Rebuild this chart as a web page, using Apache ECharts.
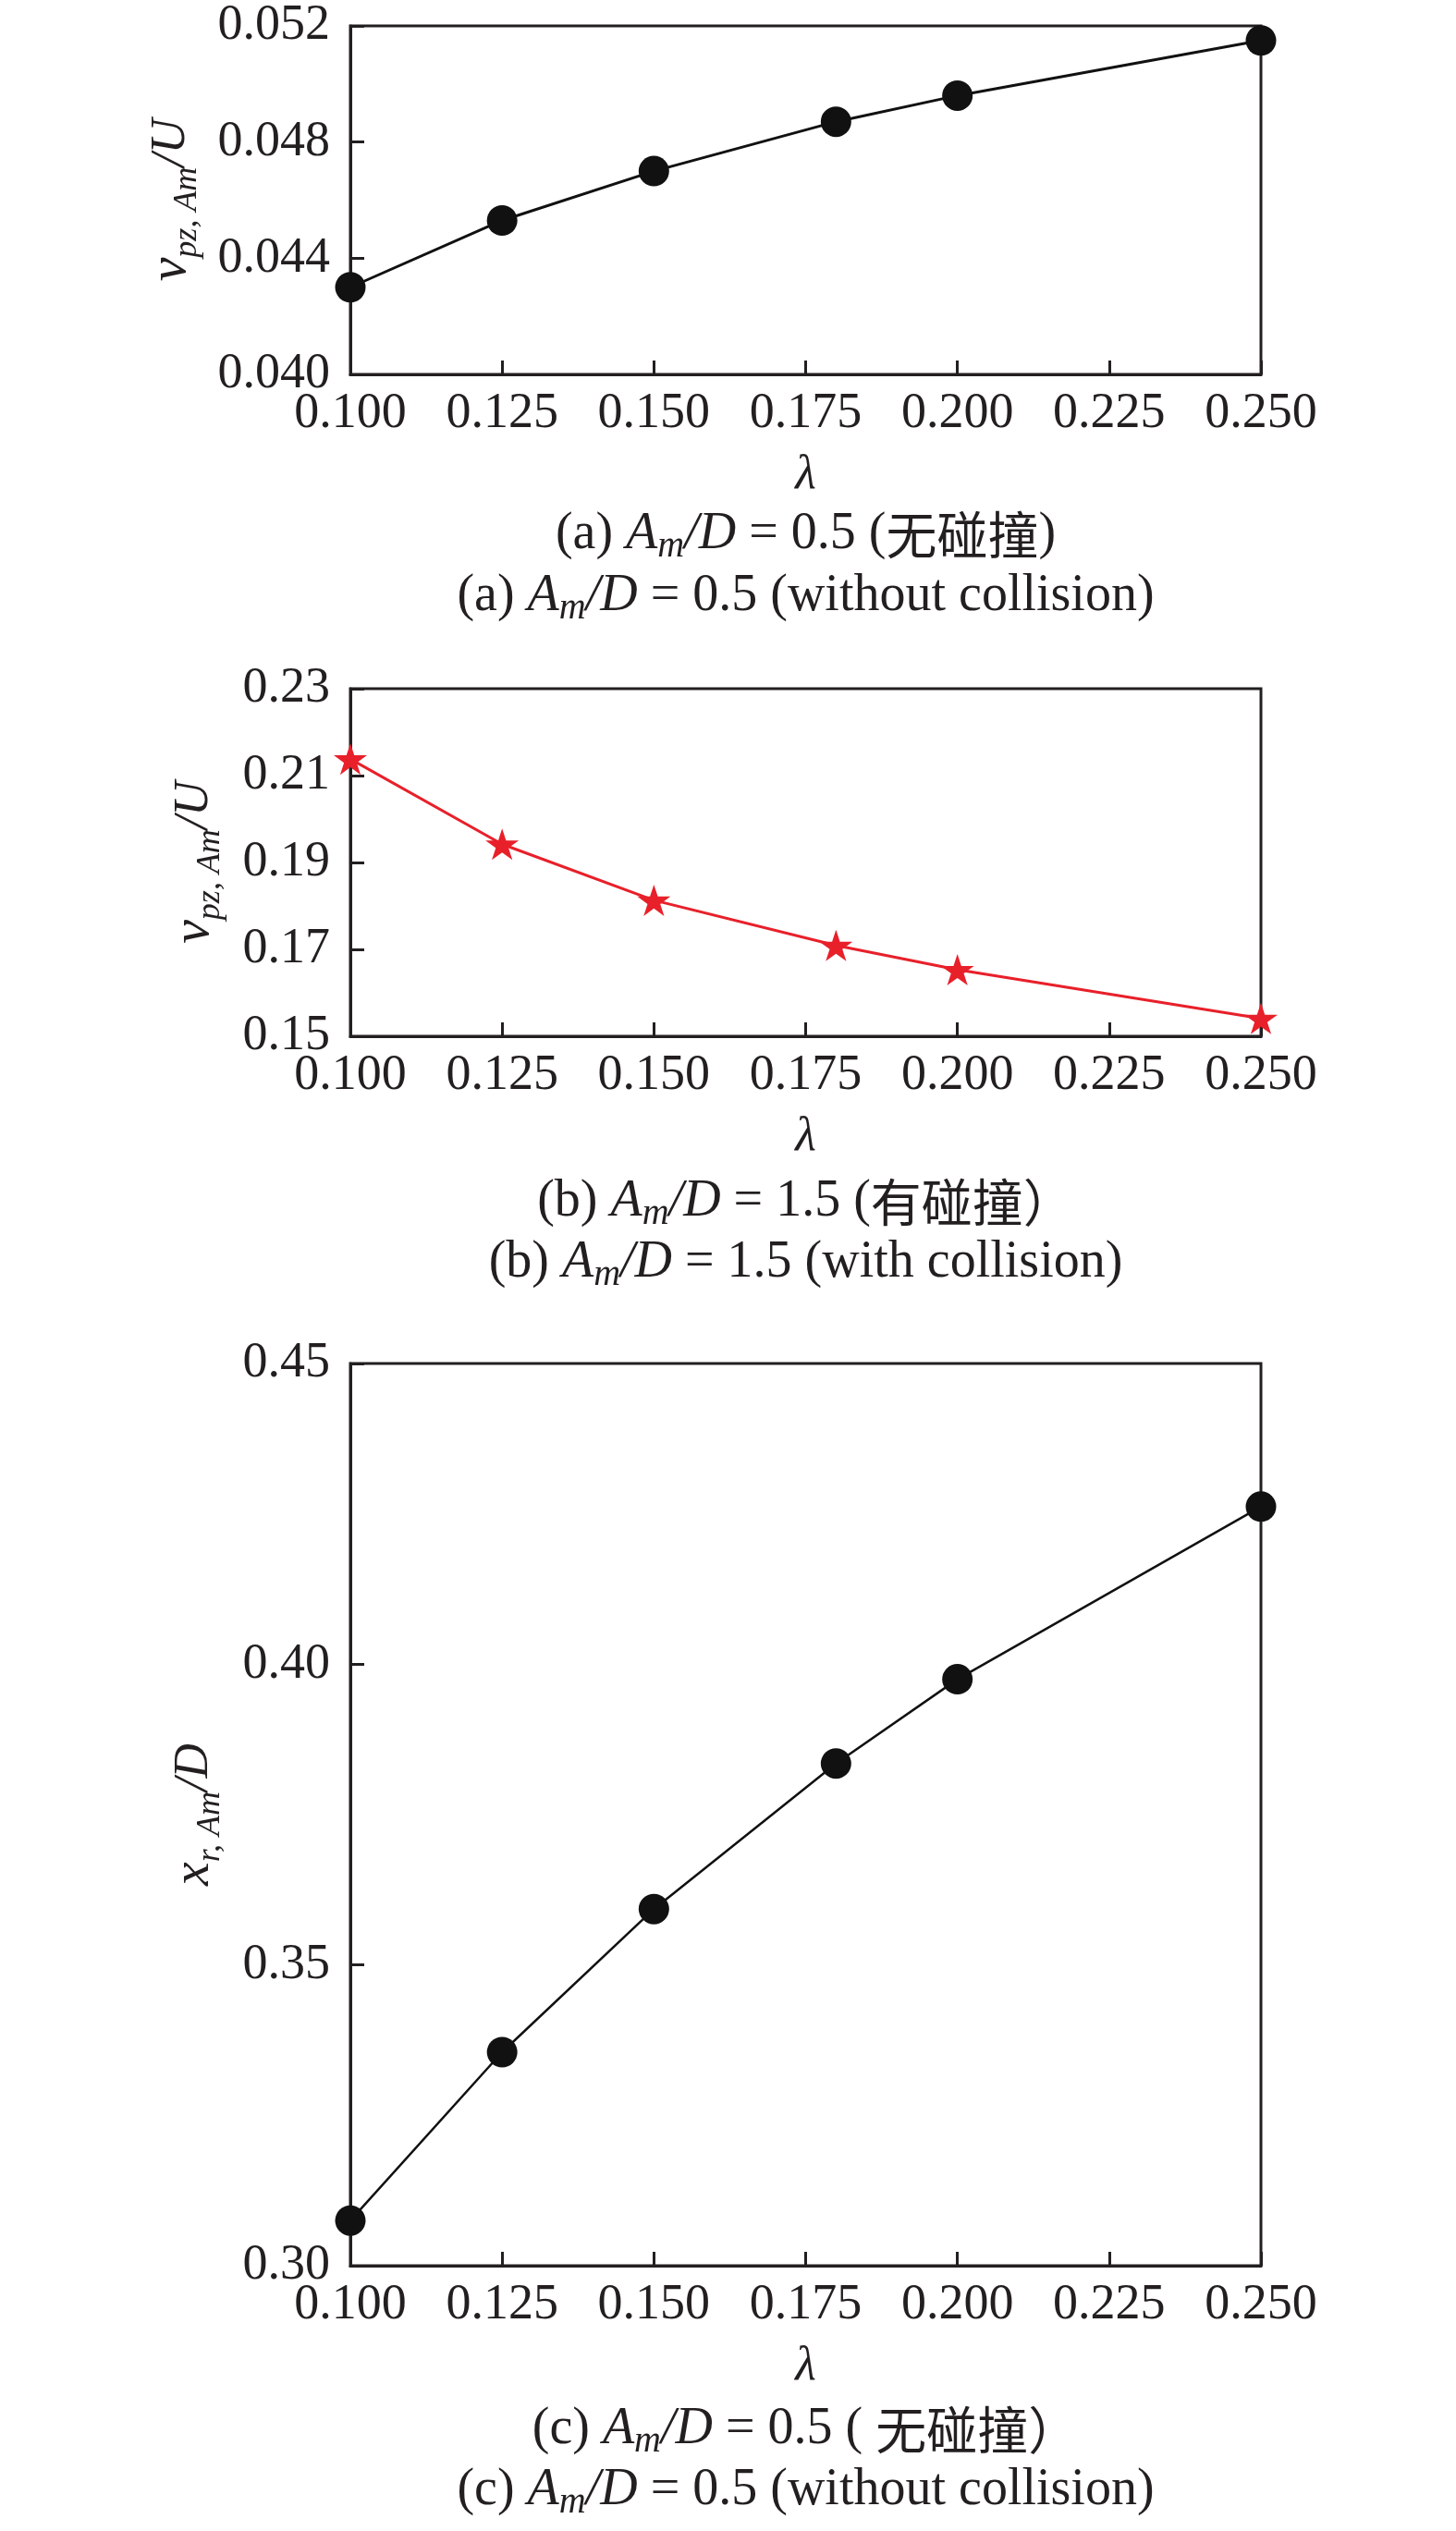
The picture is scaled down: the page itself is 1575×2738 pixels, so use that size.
<!DOCTYPE html>
<html><head><meta charset="utf-8">
<script src="https://cdn.jsdelivr.net/npm/echarts@6/dist/echarts.min.js"></script>
<style>html,body{margin:0;padding:0;background:#fff}#c{width:1575px;height:2738px}</style>
</head><body><div id="c"></div>
<script>
// ---- data ----
const lambdaValues   = [0.100, 0.125, 0.150, 0.180, 0.200, 0.250];
const vpzNoCollision = [0.0430, 0.0453, 0.0470, 0.0487, 0.0496, 0.0515];
const vpzCollision   = [0.2138, 0.1942, 0.1813, 0.1709, 0.1653, 0.1541];
const xrNoCollision  = [0.3075, 0.3355, 0.3593, 0.3835, 0.3975, 0.4262];
const xTicks  = [0.100, 0.125, 0.150, 0.175, 0.200, 0.225, 0.250];
const yTicksA = [0.040, 0.044, 0.048, 0.052];
const yTicksB = [0.15, 0.17, 0.19, 0.21, 0.23];
const yTicksC = [0.30, 0.35, 0.40, 0.45];
const captions = [
  '{n|(a) }{i|A}{s|m}{i|/D}{n| = 0.5 (}{c|无碰撞}{n|)}',
  '{n|(a) }{i|A}{s|m}{i|/D}{n| = 0.5 (without collision)}',
  '{n|(b) }{i|A}{s|m}{i|/D}{n| = 1.5 (}{c|有碰撞）}',
  '{n|(b) }{i|A}{s|m}{i|/D}{n| = 1.5 (with collision)}',
  '{n|(c) }{i|A}{s|m}{i|/D}{n| = 0.5 ( }{c|无碰撞）}',
  '{n|(c) }{i|A}{s|m}{i|/D}{n| = 0.5 (without collision)}'
];
const yNames = ['{v|v}{s|pz, Am}{n|/U}', '{v|v}{s|pz, Am}{n|/U}', '{v|x}{s|r, Am}{n|/D}'];
const xName = 'λ';

// ---- styling ----
const INK = '#231f20';
const SERIF = 'Liberation Serif';
const grids = [
  {left: 379, top: 28,   width: 985, height: 377},
  {left: 379, top: 745,  width: 985, height: 376},
  {left: 379, top: 1475, width: 985, height: 976}
];
const yTickSets = [yTicksA, yTicksB, yTicksC];
const yDigits = [3, 2, 2];
const yNameGaps = [164, 139, 139];
const captionTops = [545, 612, 1267, 1333, 2595, 2661];

const capRich = {
  n: {fontFamily: SERIF, fontSize: 56, lineHeight: 66, color: INK, verticalAlign: 'middle'},
  i: {fontFamily: SERIF, fontSize: 56, lineHeight: 66, color: INK, fontStyle: 'italic', verticalAlign: 'middle'},
  s: {fontFamily: SERIF, fontSize: 40, lineHeight: 38, color: INK, fontStyle: 'italic', padding: [27, 0, 0, 0], verticalAlign: 'middle'},
  c: {fontFamily: 'Noto Sans CJK SC', fontSize: 55, lineHeight: 66, color: INK, verticalAlign: 'middle'}
};
const nameRich = {
  v: {fontFamily: SERIF, fontSize: 58, lineHeight: 60, color: INK, fontStyle: 'italic', verticalAlign: 'middle'},
  s: {fontFamily: SERIF, fontSize: 36, lineHeight: 36, color: INK, fontStyle: 'italic', padding: [35, 0, 0, 0], verticalAlign: 'middle'},
  n: {fontFamily: SERIF, fontSize: 52, lineHeight: 60, color: INK, fontStyle: 'italic', verticalAlign: 'middle'}
};

const STAR = 'path://M50,0 L61.2,34.5 L97.6,34.5 L68.2,55.9 L79.4,90.5 L50,69.1 L20.6,90.5 L31.8,55.9 L2.4,34.5 L38.8,34.5 Z';

const xAxes = grids.map((g, k) => ({
  type: 'value', gridIndex: k,
  min: xTicks[0], max: xTicks[xTicks.length - 1],
  name: xName, nameLocation: 'middle', nameGap: 84,
  nameTextStyle: {fontFamily: SERIF, fontStyle: 'italic', fontSize: 52, lineHeight: 50, color: INK},
  axisLine: {show: true, lineStyle: {color: INK, width: 3}},
  axisTick: {show: true, inside: true, length: 15, lineStyle: {color: INK, width: 3}, customValues: xTicks},
  axisLabel: {show: true, margin: 16, color: INK, fontFamily: SERIF, fontSize: 54, customValues: xTicks,
    formatter: v => v.toFixed(3)},
  splitLine: {show: false}
}));

const yAxes = grids.map((g, k) => {
  const t = yTickSets[k];
  return {
    type: 'value', gridIndex: k,
    min: t[0], max: t[t.length - 1],
    name: yNames[k], nameLocation: 'middle', nameRotate: 90, nameGap: yNameGaps[k],
    nameTextStyle: {rich: nameRich, color: INK},
    axisLine: {show: true, lineStyle: {color: INK, width: 3}},
    axisTick: {show: true, inside: true, length: 15, lineStyle: {color: INK, width: 3}, customValues: t},
    axisLabel: {show: true, margin: 22, color: INK, fontFamily: SERIF, fontSize: 54, customValues: t,
      formatter: v => v.toFixed(yDigits[k])},
    splitLine: {show: false}
  };
});

function pairs(ys) { return lambdaValues.map((x, i) => [x, ys[i]]); }

const option = {
  animation: false,
  backgroundColor: '#fff',
  grid: grids.map(g => Object.assign({show: true, borderColor: INK, borderWidth: 3, backgroundColor: 'transparent', containLabel: false}, g)),
  xAxis: xAxes,
  yAxis: yAxes,
  title: captions.map((c, k) => ({
    text: c, left: 871.5, top: captionTops[k], textAlign: 'center', padding: 0,
    textStyle: {rich: capRich, fontFamily: SERIF, fontSize: 56, fontWeight: 'normal', color: INK}
  })),
  series: [
    {type: 'line', xAxisIndex: 0, yAxisIndex: 0, data: pairs(vpzNoCollision), clip: false,
     symbol: 'circle', symbolSize: 33, itemStyle: {color: '#111111'}, lineStyle: {color: '#111111', width: 3}},
    {type: 'line', xAxisIndex: 1, yAxisIndex: 1, data: pairs(vpzCollision), clip: false,
     symbol: STAR, symbolSize: [36, 34], itemStyle: {color: '#e8202a'}, lineStyle: {color: '#e8202a', width: 3}},
    {type: 'line', xAxisIndex: 2, yAxisIndex: 2, data: pairs(xrNoCollision), clip: false,
     symbol: 'circle', symbolSize: 33, itemStyle: {color: '#111111'}, lineStyle: {color: '#111111', width: 2.5}}
  ]
};
const chart = echarts.init(document.getElementById('c'), null, {renderer: 'canvas'});
chart.setOption(option);
</script></body></html>
